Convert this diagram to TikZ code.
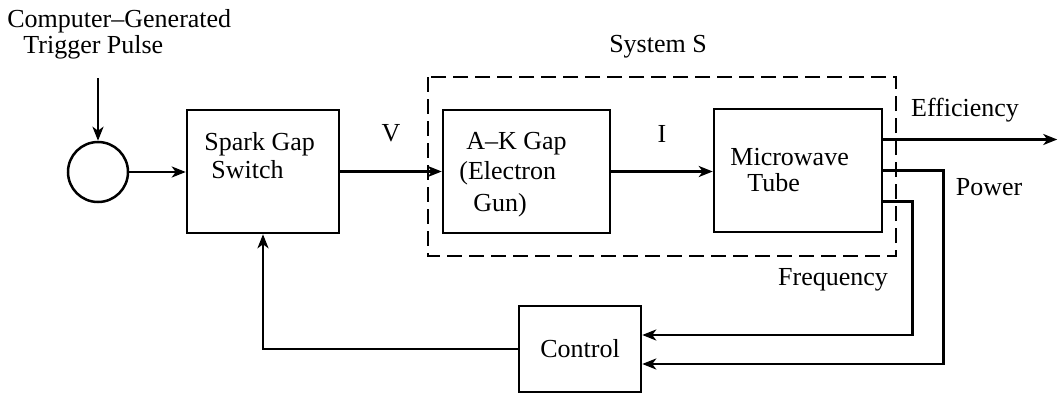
\documentclass[tikz,border=0pt]{standalone}
\usepackage{fontspec}
\setmainfont{Liberation Serif}
\newfontfamily\tmsfont{Liberation Serif}
\usepackage{tikz}
\usetikzlibrary{arrows.meta,positioning,calc}

\begin{document}
\begin{tikzpicture}[x=0.5pt,y=-0.5pt,
  font=\tmsfont\fontsize{13}{15}\selectfont,
  blk/.style={draw,line width=1.25pt,minimum height=61.5pt,inner sep=0pt},
  lbl/.style={inner sep=0pt,align=left},
  flow/.style={line width=1.25pt,-{Stealth[length=7pt,width=5.5pt,inset=2pt]}}]
\path[use as bounding box] (0,0) rectangle (1058,398);

% trigger source
\node[lbl,anchor=west] (trig) at (7,34) {Computer–Generated\\[-2pt]\hspace*{8pt}Trigger Pulse};
\coordinate (tin) at (98,78);
\node[draw,circle,line width=1.25pt,minimum size=30pt,inner sep=0pt] (src) at (98,172) {};

% blocks
\node[blk,minimum width=76pt] (spark) at (263,171.5) {};
\node[lbl,anchor=west] (sparktxt) at (204,156) {Spark Gap\\[-1pt]\hspace*{3.5pt}Switch};
\node[blk,minimum width=83.5pt] (ak) at (526.5,171.5) {};
\node[lbl,anchor=west] (aktxt) at (459,175) {\hspace*{3.5pt}A–K Gap\\(Electron\\[1pt]\hspace*{7pt}Gun)};
\node[blk,minimum width=84pt] (mw) at (798,170.5) {};
\node[lbl,anchor=west] (mwtxt) at (730,170) {Microwave\\[-2pt]\hspace*{8.5pt}Tube};
\node[blk,minimum width=61pt,minimum height=43pt] (ctrl) at (580,349) {Control};

% system boundary
\draw[line width=1.25pt,dash pattern=on 7.5pt off 3.5pt] (428,77) rectangle (896,256);
\node[lbl] (sys) at (658,47) {System S};

% signals
\draw[flow] (tin) -- (src.north);
\draw[flow] (src.east) -- (src.east -| spark.west);
\draw[flow] (spark.east) -- (ak.west) node[lbl,pos=0.5,above=14pt] (v) {V};
\draw[flow] (ak.east) -- (ak.east -| mw.west) node[lbl,pos=0.5,above=14pt] (i) {I};
\draw[flow] ([yshift=15.5pt]mw.east) -- ++(174,0);
\node[lbl] (eff) at (965,110) {Efficiency};
\draw[flow] (mw.east) -- ++(60,0) |- ([yshift=-7.5pt]ctrl.east);
\node[lbl] (pow) at (989,187) {Power};
\draw[flow] ([yshift=-15.5pt]mw.east) -- ++(29,0) |- ([yshift=7pt]ctrl.east);
\node[lbl] (freq) at (833,280) {Frequency};
\draw[flow] (ctrl.west) -| (spark.south);
\end{tikzpicture}
\end{document}
